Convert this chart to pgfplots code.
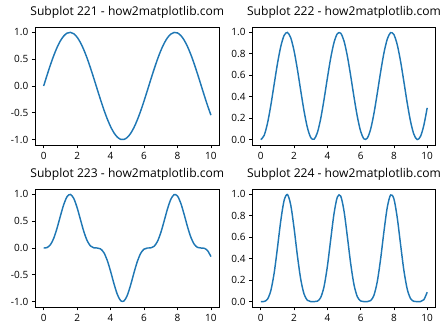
\documentclass[border=0pt]{standalone}
\usepackage{pgfplots}
\pgfplotsset{compat=1.18}
\usepackage{pgfplotstable}
\usepackage{fontspec}
\setmainfont{Open Sans}
\definecolor{mplblue}{HTML}{1F77B4}
\pgfplotstableread{
x s s2 s3 s4
0.0 0.00000 0.00000 0.00000 0.00000
0.2 0.19867 0.03947 0.00784 0.00156
0.4 0.38942 0.15165 0.05906 0.02300
0.6 0.56464 0.31882 0.18002 0.10165
0.8 0.71736 0.51460 0.36915 0.26481
1.0 0.84147 0.70807 0.59582 0.50136
1.2 0.93204 0.86870 0.80966 0.75464
1.4 0.98545 0.97111 0.95698 0.94306
1.6 0.99957 0.99914 0.99871 0.99828
1.8 0.97385 0.94838 0.92358 0.89942
2.0 0.90930 0.82682 0.75183 0.68363
2.2 0.80850 0.65367 0.52849 0.42728
2.4 0.67546 0.45625 0.30818 0.20816
2.6 0.51550 0.26574 0.13699 0.07062
2.8 0.33499 0.11222 0.03759 0.01259
3.0 0.14112 0.01991 0.00281 0.00040
3.2 -0.05837 0.00341 -0.00020 0.00001
3.4 -0.25554 0.06530 -0.01669 0.00426
3.6 -0.44252 0.19582 -0.08665 0.03835
3.8 -0.61186 0.37437 -0.22906 0.14015
4.0 -0.75680 0.57275 -0.43346 0.32804
4.2 -0.87158 0.75965 -0.66210 0.57707
4.4 -0.95160 0.90554 -0.86171 0.82000
4.6 -0.99369 0.98742 -0.98119 0.97500
4.8 -0.99616 0.99234 -0.98853 0.98474
5.0 -0.95892 0.91953 -0.88176 0.84554
5.2 -0.88345 0.78048 -0.68952 0.60915
5.4 -0.77276 0.59716 -0.46146 0.35660
5.6 -0.63127 0.39850 -0.25156 0.15880
5.8 -0.46460 0.21585 -0.10028 0.04659
6.0 -0.27942 0.07807 -0.02181 0.00609
6.2 -0.08309 0.00690 -0.00057 0.00005
6.4 0.11655 0.01358 0.00158 0.00018
6.6 0.31154 0.09706 0.03024 0.00942
6.8 0.49411 0.24414 0.12063 0.05960
7.0 0.65699 0.43164 0.28358 0.18631
7.2 0.79367 0.62991 0.49994 0.39679
7.4 0.89870 0.80766 0.72584 0.65231
7.6 0.96792 0.93687 0.90682 0.87773
7.8 0.99854 0.99708 0.99562 0.99417
8.0 0.98936 0.97883 0.96842 0.95811
8.2 0.94073 0.88497 0.83252 0.78317
8.4 0.85460 0.73034 0.62415 0.53340
8.6 0.73440 0.53934 0.39609 0.29089
8.8 0.58491 0.34212 0.20011 0.11705
9.0 0.41212 0.16984 0.06999 0.02885
9.2 0.22289 0.04968 0.01107 0.00247
9.4 0.02478 0.00061 0.00002 0.00000
9.6 -0.17433 0.03039 -0.00530 0.00092
9.8 -0.36648 0.13431 -0.04922 0.01804
10.0 -0.54402 0.29596 -0.16101 0.08759
}\data
\pgfplotsset{
  myax/.style={
    scale only axis, height=118pt,
    xmin=-0.5, xmax=10.5,
    xtick={0,2,4,6,8,10}, xticklabels={0,2,4,6,8,10},
    xtick pos=lower, ytick pos=left,
    tick align=outside, major tick length=3.4pt,
    tick style={black, line width=0.8pt},
    axis line style={black, line width=0.8pt},
    minor tick num=0,
    tick label style={font=\fontsize{10}{11}\selectfont, inner sep=0pt},
    xticklabel style={anchor=north, yshift=-3.4pt},
    yticklabel style={anchor=east, xshift=-3.4pt},
    title style={at={(0.5,1)}, anchor=base, yshift=5.8pt, inner sep=0pt, font=\fontsize{12.1}{14}\selectfont},
  },
  sym/.style={ymin=-1.1, ymax=1.1, ytick={-1,-0.5,0,0.5,1}, yticklabels={-1.0,-0.5,0.0,0.5,1.0}},
  pos/.style={ymin=-0.05, ymax=1.05, ytick={0,0.2,0.4,0.6,0.8,1}, yticklabels={0.0,0.2,0.4,0.6,0.8,1.0}},
  curve/.style={mplblue, line width=1.45pt, smooth, no marks},
}
\begin{document}
\begin{tikzpicture}
\path[use as bounding box] (0,0) rectangle (448pt,-336pt);
\begin{axis}[myax, sym, width=184pt, at={(35.3pt,-27pt)}, anchor=north west, title={Subplot 221 - how2matplotlib.com}]
\addplot[curve] table[x=x, y=s] {\data};
\end{axis}
\begin{axis}[myax, pos, width=183pt, at={(252.5pt,-27pt)}, anchor=north west, title={Subplot 222 - how2matplotlib.com}]
\addplot[curve] table[x=x, y=s2] {\data};
\end{axis}
\begin{axis}[myax, sym, width=184pt, at={(35.3pt,-189pt)}, anchor=north west, title={Subplot 223 - how2matplotlib.com}]
\addplot[curve] table[x=x, y=s3] {\data};
\end{axis}
\begin{axis}[myax, pos, width=183pt, at={(252.5pt,-189pt)}, anchor=north west, title={Subplot 224 - how2matplotlib.com}]
\addplot[curve] table[x=x, y=s4] {\data};
\end{axis}
\end{tikzpicture}
\end{document}
